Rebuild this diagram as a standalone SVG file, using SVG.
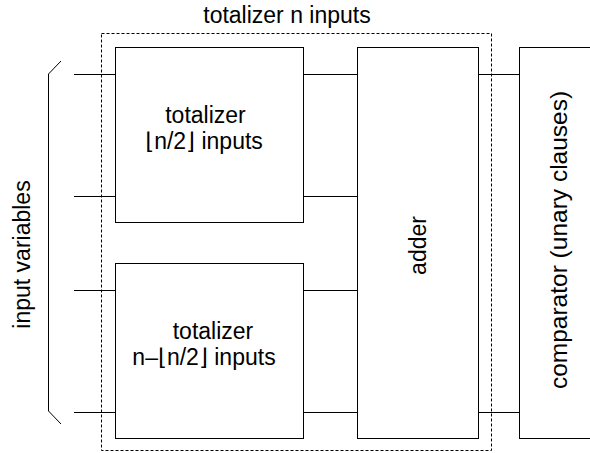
<svg xmlns="http://www.w3.org/2000/svg" width="590" height="453" viewBox="0 0 590 453">
<style>
.box{fill:#fff;stroke:#000;stroke-width:1}
.ln{stroke:#000;stroke-width:1;fill:none}
.dash{fill:none;stroke:#000;stroke-width:1;stroke-dasharray:3,2}
text{font-family:"Liberation Sans",Arial,"DejaVu Sans",sans-serif;font-size:23px;fill:#000}
</style>
<rect width="590" height="453" fill="#fff"/>
<g id="container">
<rect class="dash" x="101.5" y="33.5" width="390" height="417"/>
<text x="287" y="23" text-anchor="middle">totalizer n inputs</text>
</g>
<g id="connectors">
<path class="ln" d="M74,74.5H115M74,196.5H115M74,290.5H115M74,412.5H115"/>
<path class="ln" d="M304,74.5H357M304,196.5H357M304,290.5H357M304,412.5H357"/>
<path class="ln" d="M479,74.5H519M479,412.5H519"/>
</g>
<g id="brace">
<path class="ln" d="M61,61L48.5,74V411L61,424"/>
<text transform="translate(29.5,254.5) rotate(-90)" text-anchor="middle">input variables</text>
</g>
<g id="tot1">
<rect class="box" x="115.5" y="47.5" width="188" height="175"/>
<text x="205.5" y="123" text-anchor="middle">totalizer</text>
<text x="204" y="149" text-anchor="middle">⌊n/2⌋ inputs</text>
</g>
<g id="tot2">
<rect class="box" x="115.5" y="263.5" width="188" height="175"/>
<text x="213" y="339" text-anchor="middle">totalizer</text>
<text x="204" y="365" text-anchor="middle">n–⌊n/2⌋ inputs</text>
</g>
<g id="adder">
<rect class="box" x="357.5" y="47.5" width="121" height="391"/>
<text transform="translate(426,245.5) rotate(-90)" text-anchor="middle">adder</text>
</g>
<g id="comparator">
<rect class="box" x="519.5" y="47.5" width="90" height="391"/>
<text transform="translate(567,240) rotate(-90)" text-anchor="middle" style="font-size:24.5px">comparator (unary clauses)</text>
</g>
</svg>
